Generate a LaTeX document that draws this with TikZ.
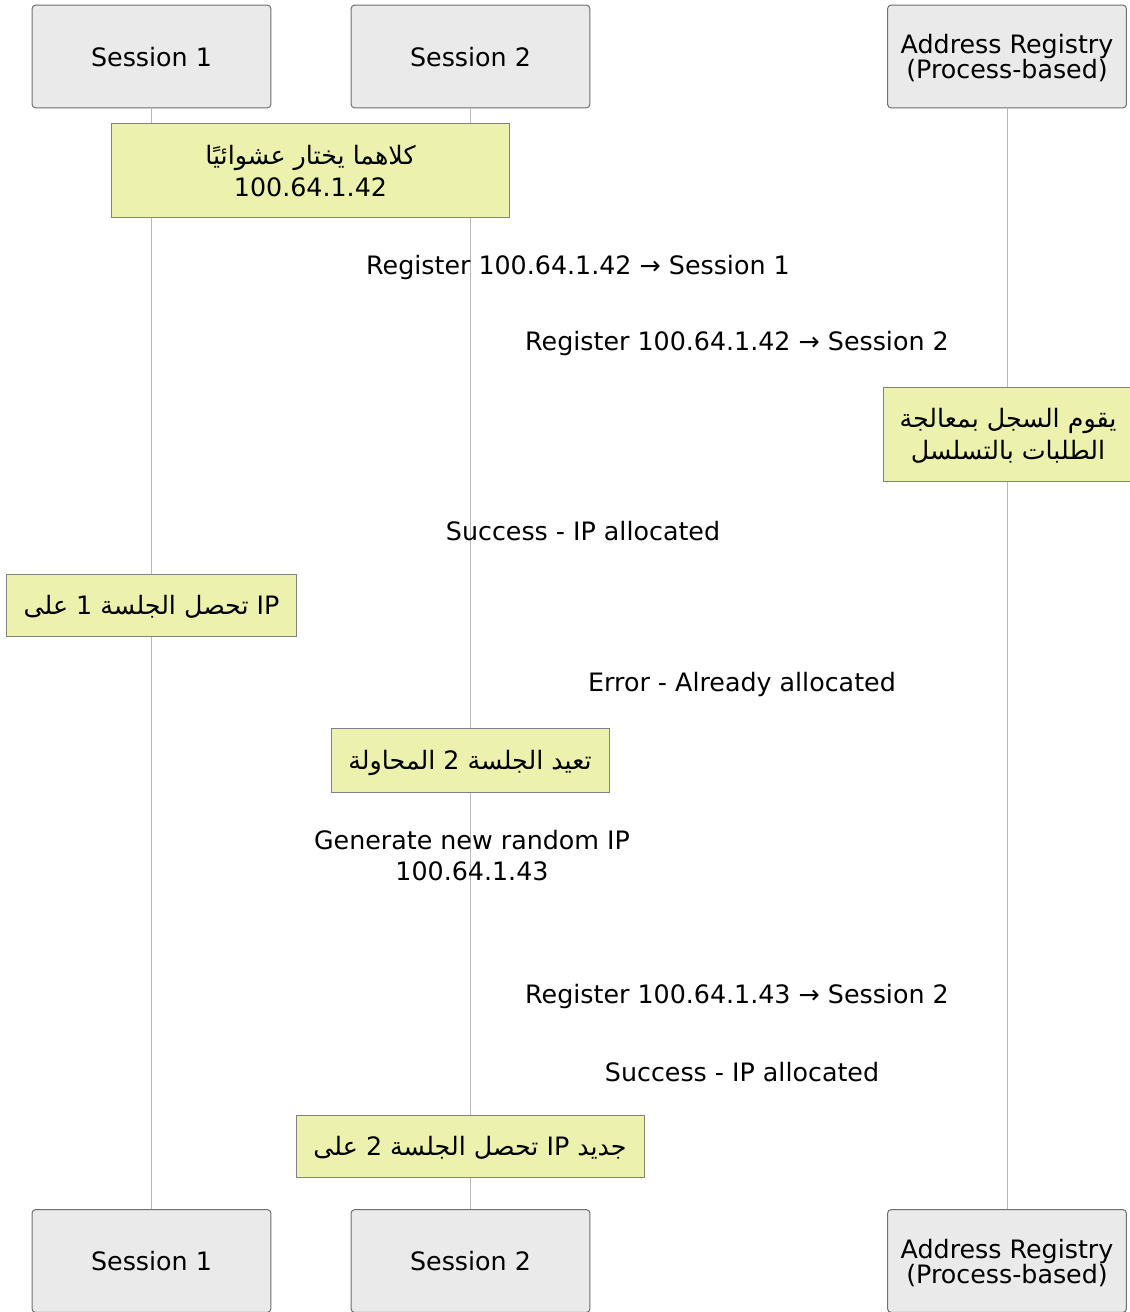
\documentclass[tikz,border=0pt]{standalone}
\usepackage{fontspec}
\setmainfont{DejaVu Sans}
\newfontfamily\arabicfont[Script=Arabic]{DejaVu Sans}
\TeXXeTstate=1
\usetikzlibrary{positioning}
\definecolor{actorfill}{RGB}{234,234,234}
\definecolor{actordraw}{RGB}{110,110,110}
\definecolor{notefill}{RGB}{236,242,174}
\definecolor{notedraw}{RGB}{130,130,130}
\definecolor{lifegray}{RGB}{185,185,185}
\tikzset{
  actor/.style={rectangle, draw=actordraw, fill=actorfill,
    minimum width=179pt, minimum height=77pt, align=center, text depth=0pt,
    font=\fontsize{19}{18.75}\selectfont, rounded corners=2.5pt, line width=0.75pt},
  note/.style={rectangle, draw=notedraw, fill=notefill, inner sep=0pt, text depth=0pt,
    align=center, font=\fontsize{19}{24}\selectfont, line width=0.75pt},
  msg/.style={align=center, font=\fontsize{19}{23.25}\selectfont},
  lifeline/.style={draw=lifegray, line width=0.75pt}
}

\begin{document}
\begin{tikzpicture}[x=0.75pt, y=-0.75pt]
  \useasboundingbox (0,0) rectangle (1129,1312);

  % Draw participants
  \node[actor] (S1top) at (151.5,56.5) {Session 1};
  \node[actor] (S2top) at (470.5,56.5) {Session 2};
  \node[actor] (REGtop) at (1007,56.5) {Address Registry\\(Process-based)};
  \node[actor] (S1bot) at (151.5,1261) {Session 1};
  \node[actor] (S2bot) at (470.5,1261) {Session 2};
  \node[actor] (REGbot) at (1007,1261) {Address Registry\\(Process-based)};

  % Lifelines
  \draw[lifeline] (S1top) -- (S1bot);
  \draw[lifeline] (S2top) -- (S2bot);
  \draw[lifeline] (REGtop) -- (REGbot);

  % Notes
  \node[note, minimum width=299pt, minimum height=70.5pt] (both) at (310.5,171)
    {{\arabicfont\beginR كلاهما يختار عشوائيًا\endR}\\100.64.1.42};
  \node[note, minimum width=187.5pt, minimum height=70.5pt] (serial) at (1008,434)
    {{\arabicfont\beginR يقوم السجل بمعالجة\endR}\\{\arabicfont\beginR الطلبات بالتسلسل\endR}};
  \node[note, minimum width=218pt, minimum height=46.5pt] (got1) at (151.5,605)
    {{\arabicfont\beginR تحصل الجلسة 1 على\endR{} IP}};
  \node[note, minimum width=208.5pt, minimum height=48pt] (retry) at (470,760)
    {{\arabicfont\beginR تعيد الجلسة 2 المحاولة\endR}};
  \node[note, minimum width=261pt, minimum height=46.5pt] (got2) at (470,1146)
    {{\arabicfont\beginR تحصل الجلسة 2 على\endR{} IP \beginR جديد\endR}};

  % Messages (labels only)
  \node[msg] (m1) at (578,268) {Register 100.64.1.42 → Session 1};
  \node[msg] (m2) at (737,344) {Register 100.64.1.42 → Session 2};
  \node[msg] (m3) at (583,531) {Success - IP allocated};
  \node[msg] (m4) at (742,685) {Error - Already allocated};
  \node[msg] (m5) at (472,856) {Generate new random IP\\100.64.1.43};
  \node[msg] (m6) at (737,996) {Register 100.64.1.43 → Session 2};
  \node[msg] (m7) at (742,1072) {Success - IP allocated};
\end{tikzpicture}
\end{document}
